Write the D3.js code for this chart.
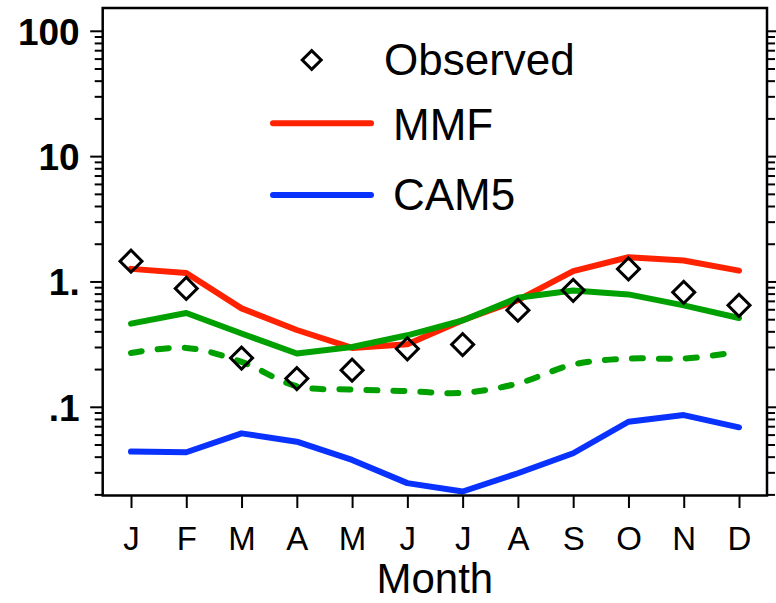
<!DOCTYPE html>
<html>
<head>
<meta charset="utf-8">
<script src="https://cdn.jsdelivr.net/npm/d3@7"></script>
<style>
  body { margin: 0; background: #fff; }
  text { font-family: "Liberation Sans", Arial, Helvetica, sans-serif; }
</style>
</head>
<body>
<svg id="chart"></svg>
<script>
(function() {

// data
var months = ["J","F","M","A","M","J","J","A","S","O","N","D"];
var observed = [1.45, 0.88, 0.245, 0.168, 0.196, 0.29, 0.314, 0.59, 0.85, 1.26, 0.82, 0.645];
var mmf      = [1.26, 1.17, 0.61, 0.41, 0.295, 0.315, 0.49, 0.71, 1.21, 1.56, 1.47, 1.22];
var cam5     = [0.0439, 0.0434, 0.0614, 0.0527, 0.0377, 0.0246, 0.0211, 0.0295, 0.0426, 0.076, 0.0859, 0.0686];
var greenSolid  = [0.461, 0.56, 0.384, 0.266, 0.30, 0.372, 0.489, 0.742, 0.848, 0.788, 0.644, 0.511];
var greenDashed = [0.269, 0.295, 0.228, 0.146, 0.1375, 0.1334, 0.1293, 0.1535, 0.2175, 0.2427, 0.2427, 0.274];
var yMajor = [0.1, 1, 10, 100];
var yLabels = [".1", "1.", "10", "100"];

var W = 776, H = 603;
var left = 102.7, right = 767, top = 8, bottom = 495.5;

var svg = d3.select("#chart").attr("width", W).attr("height", H);

var x = d3.scaleLinear().domain([0, 11]).range([131, 739]);
var y = d3.scaleLog().domain([0.0196, 152]).range([bottom, top]);

var red = "#ff2200", blue = "#0a32ff", green = "#00a000";

// minor ticks 2..9 per decade
var minor = [];
[0.01, 0.1, 1, 10, 100].forEach(function(d) {
  for (var k = 2; k <= 9; k++) {
    var v = d * k;
    if (v >= y.domain()[0] && v <= y.domain()[1]) minor.push(v);
  }
});

var g = svg.append("g");

// y axis left
var yl = g.append("g").attr("transform", "translate(" + left + ",0)")
  .call(d3.axisLeft(y).tickValues(yMajor).tickSize(12.5).tickFormat(function(d, i) { return yLabels[i]; }));
yl.select(".domain").remove();
yl.selectAll(".tick line").attr("stroke", "#000").attr("stroke-width", 2);
yl.selectAll(".tick text")
  .attr("x", -23)
  .attr("dy", "0.36em")
  .attr("fill", "#000")
  .style("font-size", "37px")
  .style("font-weight", "bold")
  .style("font-family", "'Liberation Sans', Arial, sans-serif");

var ylm = g.append("g").attr("transform", "translate(" + left + ",0)")
  .call(d3.axisLeft(y).tickValues(minor).tickSize(8).tickFormat(""));
ylm.select(".domain").remove();
ylm.selectAll(".tick line").attr("stroke", "#000").attr("stroke-width", 2);

// y axis right
var yr = g.append("g").attr("transform", "translate(" + right + ",0)")
  .call(d3.axisRight(y).tickValues(yMajor).tickSize(12.5).tickFormat(""));
yr.select(".domain").remove();
yr.selectAll(".tick line").attr("stroke", "#000").attr("stroke-width", 2);
var yrm = g.append("g").attr("transform", "translate(" + right + ",0)")
  .call(d3.axisRight(y).tickValues(minor).tickSize(8).tickFormat(""));
yrm.select(".domain").remove();
yrm.selectAll(".tick line").attr("stroke", "#000").attr("stroke-width", 2);

// x axis
var xa = g.append("g").attr("transform", "translate(0," + bottom + ")")
  .call(d3.axisBottom(x).tickValues(d3.range(12)).tickSize(12.5).tickFormat(function(d) { return months[d]; }));
xa.select(".domain").remove();
xa.selectAll(".tick line").attr("stroke", "#000").attr("stroke-width", 2);
xa.selectAll(".tick text")
  .attr("y", 54.5)
  .attr("dy", 0)
  .attr("fill", "#000")
  .style("font-size", "33px")
  .style("font-family", "'Liberation Sans', Arial, sans-serif");

svg.append("text")
  .attr("x", (left + right) / 2)
  .attr("y", 593)
  .attr("text-anchor", "middle")
  .attr("font-size", 42)
  .text("Month");

// lines
var line = d3.line()
  .x(function(d, i) { return x(i); })
  .y(function(d) { return y(d); });

var smooth = d3.line()
  .curve(d3.curveCatmullRom.alpha(0.5))
  .x(function(d, i) { return x(i); })
  .y(function(d) { return y(d); });

var plot = svg.append("g");

plot.append("path").attr("d", smooth(greenDashed))
  .attr("fill", "none").attr("stroke", green).attr("stroke-width", 6)
  .attr("stroke-linecap", "round").attr("stroke-dasharray", "11,16");

plot.append("path").attr("d", line(mmf))
  .attr("fill", "none").attr("stroke", red).attr("stroke-width", 6)
  .attr("stroke-linecap", "round").attr("stroke-linejoin", "round");

plot.append("path").attr("d", line(greenSolid))
  .attr("fill", "none").attr("stroke", green).attr("stroke-width", 6)
  .attr("stroke-linecap", "round").attr("stroke-linejoin", "round");

plot.append("path").attr("d", line(cam5))
  .attr("fill", "none").attr("stroke", blue).attr("stroke-width", 6)
  .attr("stroke-linecap", "round").attr("stroke-linejoin", "round");

var diamond = d3.symbol().type(d3.symbolSquare).size(242);

plot.selectAll(".obs")
  .data(observed)
  .enter().append("path")
    .attr("class", "obs")
    .attr("d", diamond)
    .attr("transform", function(d, i) { return "translate(" + x(i) + "," + y(d) + ") rotate(45)"; })
    .attr("fill", "none")
    .attr("stroke", "#000")
    .attr("stroke-width", 3);

// frame
svg.append("rect")
  .attr("x", left).attr("y", top)
  .attr("width", right - left).attr("height", bottom - top)
  .attr("fill", "none").attr("stroke", "#000").attr("stroke-width", 2.5);

// legend
var lg = svg.append("g");
lg.append("path")
  .attr("d", d3.symbol().type(d3.symbolSquare).size(180))
  .attr("transform", "translate(311.7,60) rotate(45)")
  .attr("fill", "none").attr("stroke", "#000").attr("stroke-width", 3);
lg.append("text").attr("x", 384).attr("y", 75).attr("font-size", 44).text("Observed");

lg.append("line").attr("x1", 273).attr("x2", 371).attr("y1", 123.3).attr("y2", 123.3)
  .attr("stroke", red).attr("stroke-width", 6).attr("stroke-linecap", "round");
lg.append("text").attr("x", 393).attr("y", 140).attr("font-size", 44).text("MMF");

lg.append("line").attr("x1", 273).attr("x2", 371).attr("y1", 195).attr("y2", 195)
  .attr("stroke", blue).attr("stroke-width", 6).attr("stroke-linecap", "round");
lg.append("text").attr("x", 393).attr("y", 210).attr("font-size", 44).text("CAM5");

})();
</script>
</body>
</html>
